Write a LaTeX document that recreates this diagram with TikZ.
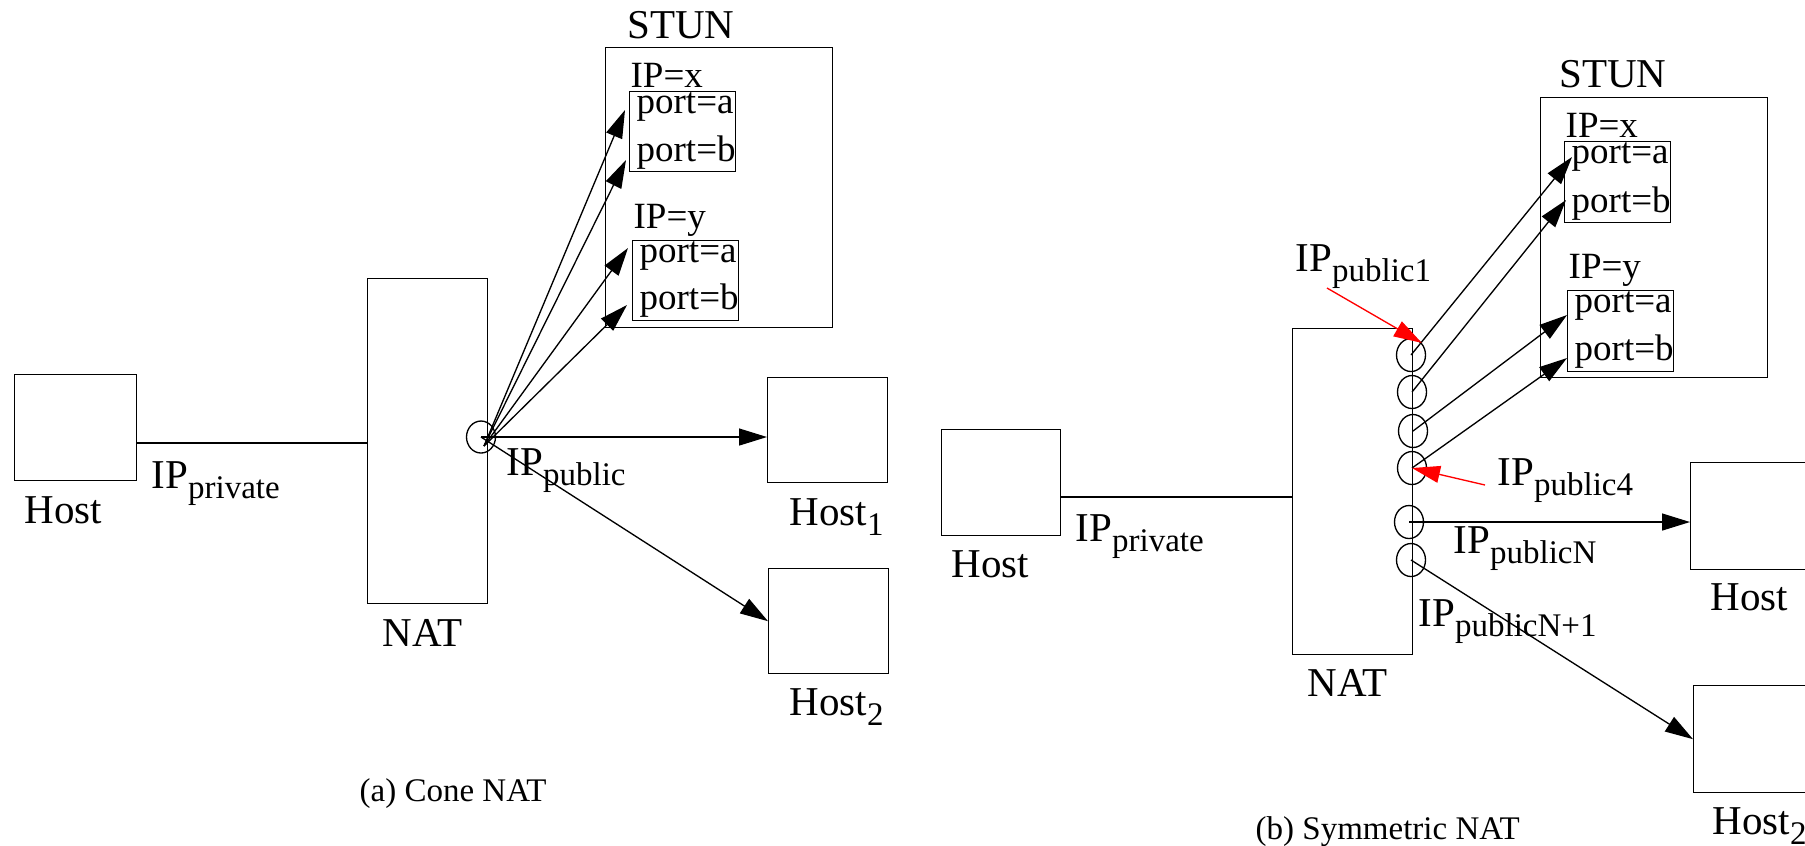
\documentclass[tikz,border=0pt]{standalone}
\usepackage{fontspec}
\setmainfont{Liberation Serif}
\usetikzlibrary{arrows.meta,shapes.geometric}
\newcommand{\lowsub}[1]{\raisebox{-3pt}{\fontsize{9.9}{11}\selectfont #1}}

\begin{document}
\begin{tikzpicture}[x=0.3pt, y=-0.3pt,
        every node/.style={inner sep=0pt},
        box/.style={draw, anchor=north west},
        etichetta/.style={anchor=base west, font=\fontsize{11.1}{13}\selectfont},
        grande/.style={anchor=base west, font=\fontsize{12.3}{14}\selectfont},
        didascalia/.style={anchor=base west, font=\fontsize{9.9}{12}\selectfont},
        porta/.style={draw, ellipse, minimum width=8.7pt, minimum height=9.9pt},
        freccia/.style={-{Triangle[length=8.4pt, width=5.1pt]}},
        rossa/.style={red, -{Triangle[length=8.4pt, width=5.1pt]}}]
    \useasboundingbox (0,0) rectangle (1805,845);

    % (a) Cone NAT: host e NAT
    \node[box, minimum width=36.6pt, minimum height=31.8pt] (hostA) at (14,374) {};
    \node[grande] (lblhostA) at (24,523) {Host};
    \node[box, minimum width=36pt, minimum height=97.5pt] (natA) at (367,278) {};
    \node[grande] (lblnatA) at (382,646) {NAT};
    \node[grande] (privA) at (151,488) {IP\lowsub{private}};
    \coordinate (inA) at (367,443);
    \draw (inA) -- (inA -| hostA.east);

    % server STUN
    \node[box, minimum width=68.1pt, minimum height=84pt] (stunA) at (605,47) {};
    \node[grande, anchor=base] (lblstunA) at (681,38) {STUN};
    \node[box, minimum width=31.8pt, minimum height=24pt] (pxA) at (629,91) {};
    \node[box, minimum width=31.8pt, minimum height=24pt] (pyA) at (632,240) {};
    \node[etichetta] (ipxA) at (630,87) {IP=x};
    \node[etichetta] (xalA) at (636,113) {port=a};
    \node[etichetta] (xblA) at (636,161) {port=b};
    \node[etichetta] (ipyA) at (633,228) {IP=y};
    \node[etichetta] (yalA) at (639,262) {port=a};
    \node[etichetta] (yblA) at (639,309) {port=b};

    % host esterni
    \node[box, minimum width=36pt, minimum height=31.5pt] (host1A) at (767,377) {};
    \node[box, minimum width=36pt, minimum height=31.5pt] (host2A) at (768,568) {};
    \node[grande] (lblhost1A) at (789,525) {Host\lowsub{1}};
    \node[grande] (lblhost2A) at (789,715) {Host\lowsub{2}};

    % porta pubblica e frecce
    \node[porta, minimum height=9.6pt] (pubA) at (481,437) {};
    \node[grande] (lblpubA) at (506,475) {IP\lowsub{public}};
    \coordinate (fanA) at (484,446);
    \coordinate (xaA) at (625,110);
    \coordinate (xbA) at (626,160);
    \coordinate (yaA) at (628,248);
    \coordinate (ybA) at (627,305);
    \foreach \t in {xaA,xbA,yaA,ybA}
        \draw[freccia] (fanA) -- (\t);
    \draw[freccia] (pubA.center) -- (pubA.center -| host1A.west);
    \draw[freccia] (pubA.center) -- (host2A.west);

    \node[didascalia] (capA) at (359,801) {(a) Cone NAT};

    % (b) Symmetric NAT: host e NAT
    \node[box, minimum width=35.7pt, minimum height=31.8pt] (hostB) at (941,429) {};
    \node[grande] (lblhostB) at (951,577) {Host};
    \node[box, minimum width=36pt, minimum height=97.8pt] (natB) at (1292,328) {};
    \node[grande] (lblnatB) at (1307,696) {NAT};
    \node[grande] (privB) at (1075,541) {IP\lowsub{private}};
    \coordinate (inB) at (1292,497);
    \draw (inB) -- (inB -| hostB.east);

    % server STUN
    \node[box, minimum width=68.1pt, minimum height=84pt] (stunB) at (1540,97) {};
    \node[grande, anchor=base] (lblstunB) at (1613,87) {STUN};
    \node[box, minimum width=31.8pt, minimum height=24.3pt] (pxB) at (1564,141) {};
    \node[box, minimum width=31.8pt, minimum height=24.3pt] (pyB) at (1567,290) {};
    \node[etichetta] (ipxB) at (1565,137) {IP=x};
    \node[etichetta] (xalB) at (1571,163) {port=a};
    \node[etichetta] (xblB) at (1571,212) {port=b};
    \node[etichetta] (ipyB) at (1568,278) {IP=y};
    \node[etichetta] (yalB) at (1574,312) {port=a};
    \node[etichetta] (yblB) at (1574,360) {port=b};

    % host esterni
    \node[box, minimum width=36pt, minimum height=32.1pt] (host1B) at (1690,462) {};
    \node[box, minimum width=36pt, minimum height=32.1pt] (host2B) at (1693,685) {};
    \node[grande] (lblhost1B) at (1710,610) {Host};
    \node[grande] (lblhost2B) at (1712,834) {Host\lowsub{2}};

    % porte pubbliche
    \foreach \n/\x/\y in {1/1411/355, 2/1412/392, 3/1413/431,
                          4/1412/468, 5/1409/522, 6/1411/560}
        \node[porta] (c\n) at (\x,\y) {};
    \node[grande] (lblc1) at (1295,271) {IP\lowsub{public1}};
    \node[grande] (lblc4) at (1497,485) {IP\lowsub{public4}};
    \node[grande] (lblc5) at (1453,553) {IP\lowsub{publicN}};
    \node[grande] (lblc6) at (1418,626) {IP\lowsub{publicN+1}};

    % frecce verso STUN e host
    \coordinate (xaB) at (1572,157);
    \coordinate (xbB) at (1566,200);
    \coordinate (yaB) at (1567,315);
    \coordinate (ybB) at (1567,358);
    \foreach \n/\t in {1/xaB, 2/xbB, 3/yaB, 4/ybB}
        \draw[freccia] (c\n.center) -- (\t);
    \draw[freccia] (c5.center) -- (c5.center -| host1B.west);
    \draw[freccia] (c6.center) -- (host2B.west);

    % frecce rosse
    \coordinate (r1) at (1327,288);
    \coordinate (r4) at (1485,485);
    \draw[rossa] (r1) -- (c1.north east);
    \draw[rossa] (r4) -- (c4.center);

    \node[didascalia] (capB) at (1255,839) {(b) Symmetric NAT};
\end{tikzpicture}
\end{document}
